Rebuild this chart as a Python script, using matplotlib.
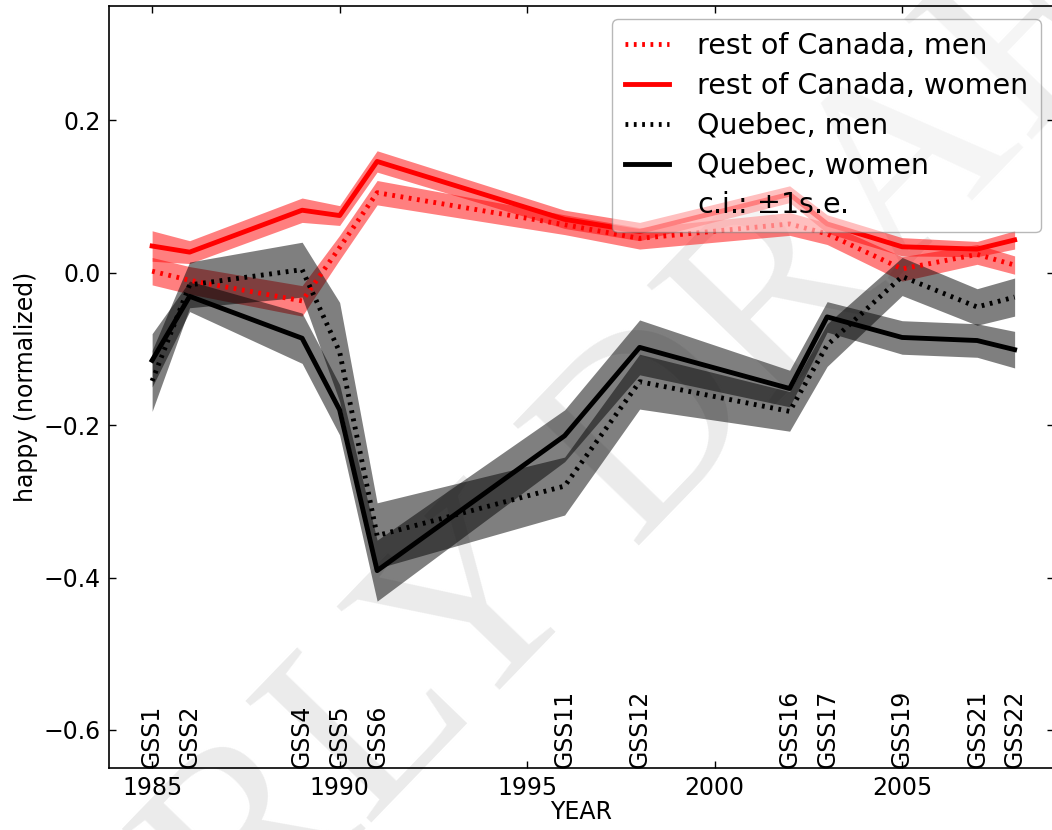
import numpy as np
import matplotlib
matplotlib.use("Agg")
import matplotlib.pyplot as plt

plt.rcParams['lines.scale_dashes'] = False

years = [1985, 1986, 1989, 1990, 1991, 1996, 1998, 2002, 2003, 2005, 2007, 2008]
surveys = ["GSS1", "GSS2", "GSS4", "GSS5", "GSS6", "GSS11", "GSS12",
           "GSS16", "GSS17", "GSS19", "GSS21", "GSS22"]

roc_men = [0.002, -0.010, -0.037, 0.033, 0.105, 0.063, 0.045, 0.064, 0.051, 0.005, 0.024, 0.010]
roc_men_se = [0.018, 0.018, 0.020, 0.016, 0.016, 0.013, 0.014, 0.015, 0.014, 0.016, 0.013, 0.012]
roc_women = [0.035, 0.027, 0.082, 0.075, 0.146, 0.070, 0.054, 0.103, 0.064, 0.034, 0.031, 0.043]
roc_women_se = [0.020, 0.015, 0.016, 0.013, 0.014, 0.012, 0.012, 0.011, 0.012, 0.012, 0.010, 0.012]
qc_men = [-0.142, -0.016, 0.004, -0.104, -0.345, -0.280, -0.143, -0.182, -0.095, -0.005, -0.045, -0.032]
qc_men_se = [0.040, 0.030, 0.036, 0.065, 0.043, 0.038, 0.036, 0.026, 0.028, 0.025, 0.024, 0.025]
qc_women = [-0.115, -0.031, -0.086, -0.180, -0.391, -0.214, -0.098, -0.152, -0.058, -0.085, -0.089, -0.101]
qc_women_se = [0.035, 0.020, 0.033, 0.033, 0.040, 0.034, 0.036, 0.024, 0.020, 0.022, 0.022, 0.024]

fig = plt.figure(figsize=(10.52, 8.3), dpi=100)
ax = fig.add_axes([109 / 1052, 1 - 768 / 830, (1054 - 109) / 1052, (768 - 6) / 830])

# watermark
ax.text(0.545, 0.37, "EARLY DRAFT", transform=fig.transFigure, rotation=46,
        fontsize=192, family="Liberation Serif", color="0.92",
        ha="center", va="center", zorder=0, clip_on=False)

series = [
    (roc_men, roc_men_se, "red", (0, (2, 4)), "rest of Canada, men"),
    (roc_women, roc_women_se, "red", "-", "rest of Canada, women"),
    (qc_men, qc_men_se, "black", (0, (2, 4)), "Quebec, men"),
    (qc_women, qc_women_se, "black", "-", "Quebec, women"),
]
x = np.array(years)
for vals, se, col, ls, lab in series:
    v = np.array(vals)
    s = np.array(se)
    ax.fill_between(x, v - s, v + s, color=col, alpha=0.5, linewidth=0, zorder=1)
    ax.plot(x, v, color=col, linestyle=ls, linewidth=3.5, label=lab, zorder=2,
            dash_capstyle="butt")
ax.plot([], [], color="none", label="c.i.: $\\pm$1s.e.")

ax.set_xlim(1983.85, 2009.05)
ax.set_ylim(-0.65, 0.35)
ax.set_xticks([1985, 1990, 1995, 2000, 2005])
ax.set_yticks([-0.6, -0.4, -0.2, 0.0, 0.2])
ax.tick_params(direction="in", top=True, right=True, length=5, width=1,
               labelsize=17, pad=6)
for sp in ax.spines.values():
    sp.set_linewidth(1.2)

for yr, name in zip(years, surveys):
    ax.text(yr, -0.65, name, rotation=90, ha="center", va="bottom", fontsize=17)

ax.set_xlabel("YEAR", fontsize=17, labelpad=0)
ax.set_ylabel("happy (normalized)", fontsize=17, labelpad=4)

ax.legend(loc="upper right", fontsize=20.5, fancybox=True, framealpha=0.5,
          handlelength=1.55, handletextpad=1.0, labelspacing=0.42,
          borderpad=0.45, borderaxespad=0.45, edgecolor="0.45")

fig.savefig("out.png", dpi=100)
